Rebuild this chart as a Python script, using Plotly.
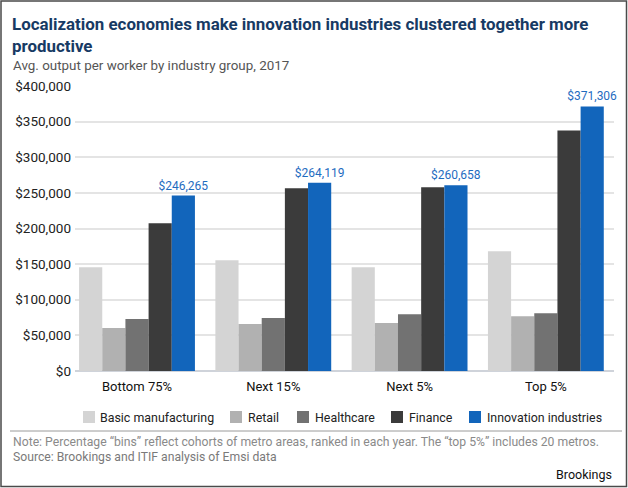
import plotly.graph_objects as go

# ---- data ----
groups = ["Bottom 75%", "Next 15%", "Next 5%", "Top 5%"]
series_names = ["Basic manufacturing", "Retail", "Healthcare", "Finance", "Innovation industries"]
basic_manufacturing = [145500, 155500, 145500, 168000]
retail = [60500, 66000, 67500, 77000]
healthcare = [73000, 74500, 79500, 81000]
finance = [207500, 256500, 258000, 337500]
innovation = [246265, 264119, 260658, 371306]
y_ticks = [0, 50000, 100000, 150000, 200000, 250000, 300000, 350000, 400000]
y_tick_labels = ["$" + f"{v:,}" for v in y_ticks]
title_text = "Localization economies make innovation industries clustered together more<br>productive"

colors = ["#d4d4d4", "#b1b1b1", "#727272", "#3b3b3b", "#1265bb"]
series_values = [basic_manufacturing, retail, healthcare, finance, innovation]

W, H = 628, 488
ML, MR, MT, MB = 75, 14, 86, 117
PW, PH = W - ML - MR, H - MT - MB


def px2x(px):
    return (px - ML) / PW


def px2y(py):
    return (H - MB - py) / PH


FONT = "Roboto"

fig = go.Figure()
for name, vals, col in zip(series_names, series_values, colors):
    is_innov = name == "Innovation industries"
    fig.add_trace(go.Bar(
        x=groups, y=vals, name=name,
        marker=dict(color=col, line=dict(width=0)),
        text=["$" + f"{v:,}" for v in vals] if is_innov else None,
        textposition="outside" if is_innov else "none",
        textfont=dict(family=FONT, size=12, color="#1f6cbf"),
        constraintext="none",
        cliponaxis=False,
        showlegend=False,
        hoverinfo="skip",
    ))

fig.update_layout(
    width=W, height=H,
    margin=dict(l=ML, r=MR, t=MT, b=MB, pad=0),
    paper_bgcolor="white", plot_bgcolor="white",
    barmode="group", bargap=0.15, bargroupgap=0,
    font=dict(family=FONT, size=13, color="#222222"),
    xaxis=dict(
        type="category", range=[-0.455, 3.5],
        showgrid=False, showline=False, zeroline=False,
        ticks="", tickfont=dict(family=FONT, size=13, color="#111111"),
        ticklabelstandoff=6,
    ),
    yaxis=dict(
        range=[0, 400000], tickvals=y_ticks, ticktext=y_tick_labels,
        showgrid=True, gridcolor="#e4e4e4", gridwidth=1.5,
        zeroline=True, zerolinecolor="#cfd3da", zerolinewidth=1.5,
        showline=False, ticks="",
        tickfont=dict(family=FONT, size=13.5, color="#222222"),
        ticklabelstandoff=3,
    ),
)

# Legend (keys + labels)
legend_square_left = [83, 230, 297, 391, 469]
legend_text_left = [98, 246, 313, 407, 485]
ly = 417
for name, col, sx, tx in zip(series_names, colors, legend_square_left, legend_text_left):
    fig.add_shape(type="rect", xref="paper", yref="paper",
                  x0=px2x(sx), x1=px2x(sx + 12), y0=px2y(ly + 6), y1=px2y(ly - 6),
                  fillcolor=col, line=dict(width=0))
    fig.add_annotation(xref="paper", yref="paper", x=px2x(tx), y=px2y(ly),
                       xanchor="left", yanchor="middle", showarrow=False,
                       text=name, font=dict(family=FONT, size=12.4, color="#222222"))

# Title & subtitle
fig.add_annotation(xref="paper", yref="paper", x=px2x(10), y=px2y(12),
                   xanchor="left", yanchor="top", showarrow=False, align="left",
                   text="<b>" + title_text + "</b>",
                   font=dict(family=FONT, size=16.9, color="#173a64"))
fig.add_annotation(xref="paper", yref="paper", x=px2x(11), y=px2y(65),
                   xanchor="left", yanchor="middle", showarrow=False,
                   text="Avg. output per worker by industry group, 2017",
                   font=dict(family=FONT, size=13.4, color="#555555"))

# Separator line
fig.add_shape(type="line", xref="paper", yref="paper",
              x0=px2x(10), x1=px2x(622), y0=px2y(431), y1=px2y(431),
              line=dict(color="#9a9a9a", width=1))

# Notes
fig.add_annotation(xref="paper", yref="paper", x=px2x(11), y=px2y(442),
                   xanchor="left", yanchor="middle", showarrow=False,
                   text="Note: Percentage “bins” reflect cohorts of metro areas, ranked in each year. The “top 5%” includes 20 metros.",
                   font=dict(family=FONT, size=12.2, color="#8a8a8a"))
fig.add_annotation(xref="paper", yref="paper", x=px2x(11), y=px2y(457),
                   xanchor="left", yanchor="middle", showarrow=False,
                   text="Source: Brookings and ITIF analysis of Emsi data",
                   font=dict(family=FONT, size=12.2, color="#7a7a7a"))
fig.add_annotation(xref="paper", yref="paper", x=px2x(614), y=px2y(474),
                   xanchor="right", yanchor="middle", showarrow=False,
                   text="Brookings",
                   font=dict(family=FONT, size=12.5, color="#111111"))

# Outer frame
fig.add_shape(type="rect", xref="paper", yref="paper",
              x0=px2x(1), x1=px2x(626.5), y0=px2y(486.5), y1=px2y(1),
              fillcolor="rgba(0,0,0,0)", line=dict(color="#4a4a4a", width=1.5))

fig.write_html("out.html", config={"displayModeBar": False},
               post_script="document.body.style.margin='0';document.body.style.overflow='hidden';")
